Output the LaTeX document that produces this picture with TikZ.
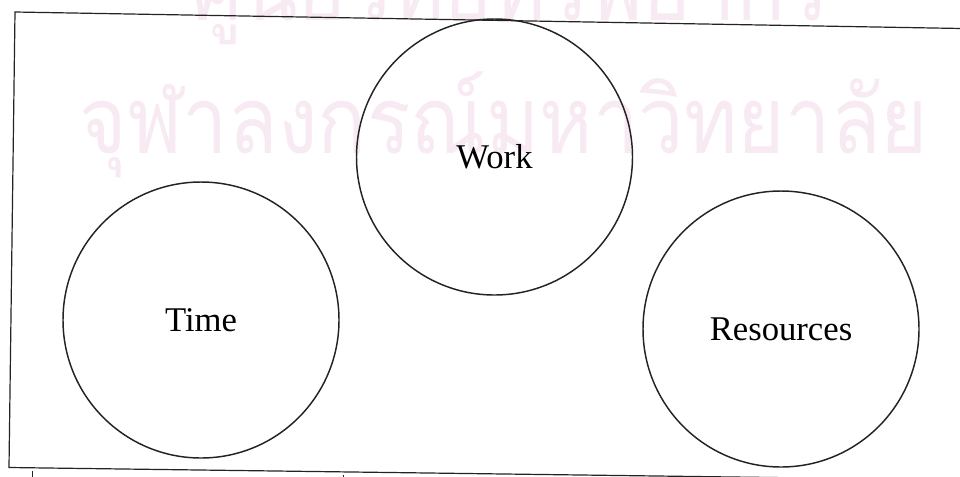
\documentclass[tikz,border=0pt]{standalone}
\usepackage{fontspec}
\setmainfont{Liberation Serif}
\newfontfamily\thaifont[Script=Thai]{Loma}
\usepackage{tikz}
\usetikzlibrary{positioning}
\definecolor{inkgray}{RGB}{35,35,35}
\definecolor{wmpink}{RGB}{248,234,243}

\begin{document}
\begin{tikzpicture}[x=0.75pt, y=-0.75pt,
  frame/.style={inkgray, line width=0.9pt},
  circ/.style={circle, draw=inkgray, line width=1.1pt, minimum size=207pt, inner sep=0pt,
    font=\fontsize{26}{30}\selectfont},
  watermark/.style={wmpink, anchor=base, inner sep=0pt, xscale=0.87,
    font=\thaifont\fontsize{70}{80}\selectfont}]
  \useasboundingbox (0,0) rectangle (960,476);
  \clip (0,0) rectangle (960,476);
  % Stamp behind the figure
  \node[watermark] (wmtop) at (510,20) {ศูนย์วิทยทรัพยากร};
  \node[watermark] (wmbottom) at (504,153) {จุฬาลงกรณ์มหาวิทยาลัย};
  % Frame
  \draw[frame] (962,28.5) -- (15,12) -- (9,467.5) -- (962,480);
  \draw[frame, line width=0.6pt] (32,471) -- (32,477);
  \draw[frame, line width=0.6pt] (343,475) -- (343,477);
  % The three circles
  \node[circ] (work) at (494.5,157) {Work};
  \node[circ] (time) at (201,320) {Time};
  \node[circ] (resources) at (781,329) {Resources};
\end{tikzpicture}
\end{document}
